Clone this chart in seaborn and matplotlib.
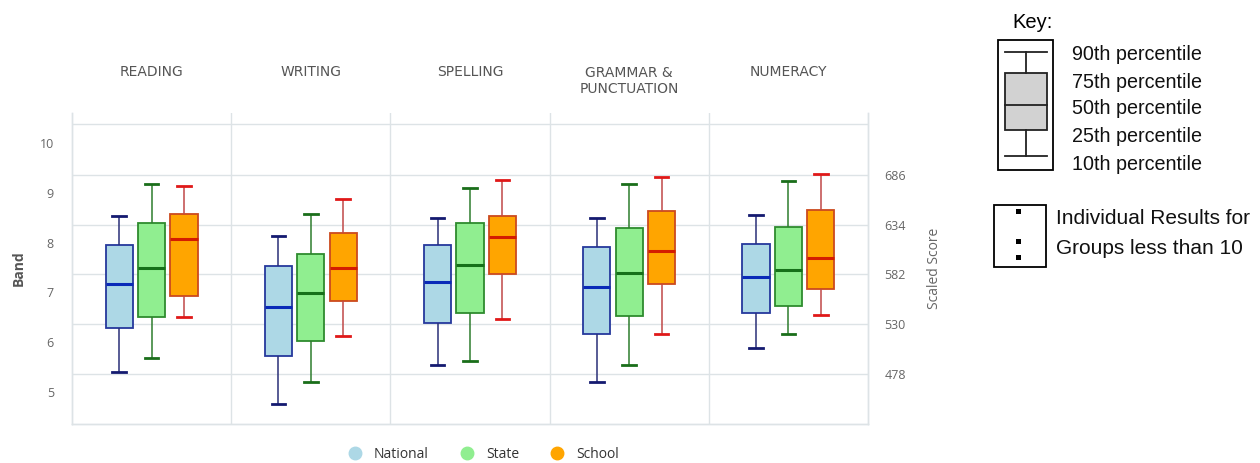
import numpy as np
import pandas as pd
import seaborn as sns
import matplotlib
matplotlib.use("Agg")
import matplotlib.pyplot as plt
from matplotlib.lines import Line2D
from matplotlib.patches import Rectangle

# ---------------- data (band values) ----------------
domains = ["READING", "WRITING", "SPELLING", "GRAMMAR &\nPUNCTUATION", "NUMERACY"]
groups = ["National", "State", "School"]

national_p10 = [5.41, 4.76, 5.55, 5.21, 5.89]
national_p25 = [6.29, 5.73, 6.39, 6.16, 6.59]
national_p50 = [7.17, 6.71, 7.21, 7.10, 7.30]
national_p75 = [7.96, 7.53, 7.95, 7.91, 7.98]
national_p90 = [8.53, 8.14, 8.50, 8.50, 8.55]

state_p10 = [5.68, 5.21, 5.62, 5.55, 6.16]
state_p25 = [6.51, 6.03, 6.58, 6.53, 6.72]
state_p50 = [7.49, 6.98, 7.56, 7.39, 7.44]
state_p75 = [8.39, 7.78, 8.39, 8.29, 8.32]
state_p90 = [9.18, 8.57, 9.10, 9.18, 9.23]

school_p10 = [6.50, 6.13, 6.47, 6.16, 6.55]
school_p25 = [6.92, 6.82, 7.36, 7.17, 7.06]
school_p50 = [8.07, 7.49, 8.12, 7.83, 7.70]
school_p75 = [8.58, 8.19, 8.53, 8.63, 8.66]
school_p90 = [9.13, 8.87, 9.25, 9.32, 9.37]

band_ticks = [5, 6, 7, 8, 9, 10]
score_ticks = [478, 530, 582, 634, 686]

key_labels = ["90th percentile", "75th percentile", "50th percentile",
              "25th percentile", "10th percentile"]
key_note = ["Individual Results for", "Groups less than 10"]

# ---------------- long table: five percentile points per box ----------------
group_stats = {
    "National": [national_p10, national_p25, national_p50, national_p75, national_p90],
    "State": [state_p10, state_p25, state_p50, state_p75, state_p90],
    "School": [school_p10, school_p25, school_p50, school_p75, school_p90],
}
rows = []
for g in groups:
    for di, d in enumerate(domains):
        for plist in group_stats[g]:
            rows.append({"domain": d, "group": g, "band": plist[di]})
df = pd.DataFrame(rows)

# ---------------- styling ----------------
fills = ["#add8e6", "#90ee90", "#ffa500"]
edges = ["#25389c", "#2e8b2e", "#cc4a1e"]
medians = ["#0a2ab8", "#16701a", "#d41c00"]
whisk = ["#2a2f78", "#2e7d2e", "#c04848"]
capc = ["#141a70", "#1a6e1a", "#e01818"]
grid_c = "#dde3e6"
txt_c = "#666666"

plt.rcParams["font.family"] = ["Open Sans", "DejaVu Sans"]

W, H = 1260, 463
fig = plt.figure(figsize=(W / 100, H / 100), dpi=100)
fig.patch.set_facecolor("white")

def px2fig(x0, y0, x1, y1):
    return [x0 / W, 1 - y1 / H, (x1 - x0) / W, (y1 - y0) / H]

ax = fig.add_axes(px2fig(72, 113, 868, 424))
ax2 = ax.twinx()

sns.boxplot(data=df, x="domain", y="band", hue="group", order=domains,
            hue_order=groups, palette=fills, saturation=1, width=0.61, gap=0.16,
            whis=(0, 100), showfliers=False, linewidth=1.2, legend=False, ax=ax)

for i, cont in enumerate(ax.containers[:3]):
    for b in cont.boxes:
        b.set_edgecolor(edges[i])
        b.set_linewidth(1.3)
    for m in cont.medians:
        m.set_color(medians[i])
        m.set_linewidth(2.2)
    for w in cont.whiskers:
        w.set_color(whisk[i])
        w.set_linewidth(1.1)
    for c in cont.caps:
        c.set_color(capc[i])
        c.set_linewidth(2.0)

# axis ranges
band_lo, band_hi = 4.36, 10.60
ax.set_ylim(band_lo, band_hi)
ax.set_xlim(-0.5, len(domains) - 0.5)
ax2.set_ylim(478 + 52 * (band_lo - 5.36), 478 + 52 * (band_hi - 5.36))

ax.set_zorder(ax2.get_zorder() + 1)
ax.patch.set_visible(False)

# left axis
ax.set_yticks(band_ticks)
ax.set_yticklabels([str(t) for t in band_ticks])
ax.tick_params(axis="y", length=0, pad=13, labelsize=9, labelcolor=txt_c)
ax.set_xticks([])
ax.set_xlabel("")
ax.set_ylabel("Band", fontsize=10, color="#555555", fontweight="bold")
ax.yaxis.set_label_coords(-0.058, 0.5)

# right axis
ax2.set_yticks(score_ticks)
ax2.set_yticklabels([str(t) for t in score_ticks])
ax2.tick_params(axis="y", length=0, pad=12, labelsize=9, labelcolor=txt_c)
ax2.set_ylabel("Scaled Score", fontsize=10, color=txt_c)
ax2.yaxis.set_label_coords(1.074, 0.5)
ax2.yaxis.grid(True, color=grid_c, linewidth=1)

for a in (ax, ax2):
    for s in ("left", "right", "bottom"):
        a.spines[s].set_color(grid_c)
        a.spines[s].set_linewidth(1)
    a.spines["top"].set_visible(False)

ax.axhline(10.38, color=grid_c, linewidth=1, zorder=0)
for xb in np.arange(0.5, len(domains) - 0.5, 1.0):
    ax.axvline(xb, color=grid_c, linewidth=1, zorder=0)

# category headers
xt = ax.get_xaxis_transform()
for i, d in enumerate(domains):
    yy = 1.103 if "\n" in d else 1.132
    ax.text(i, yy, d, transform=xt, ha="center", va="center", fontsize=10,
            color="#555555", linespacing=1.2,
            family=["Liberation Sans Narrow", "DejaVu Sans"])

# legend
handles = [Line2D([], [], marker="o", linestyle="", markersize=9,
                  markerfacecolor=c, markeredgecolor=c) for c in fills]
fig.legend(handles, groups, loc="center", bbox_to_anchor=(480 / W, 1 - 454 / H),
           ncol=3, frameon=False, fontsize=10, handletextpad=0.35,
           columnspacing=1.75, labelcolor="#333333")

# ---------------- key (overlay in pixel coordinates) ----------------
ov = fig.add_axes([0, 0, 1, 1])
ov.set_xlim(0, W)
ov.set_ylim(H, 0)
ov.axis("off")
kf = ["Liberation Sans", "DejaVu Sans"]
ov.text(1033, 22, "Key:", ha="center", va="center", fontsize=14.5, family=kf)
ov.add_patch(Rectangle((998, 40), 55, 130, fill=False, edgecolor="black", lw=1.3))
ov.plot([1005, 1047], [52, 52], color="#222222", lw=1.3)
ov.plot([1005, 1047], [156, 156], color="#222222", lw=1.3)
ov.plot([1026, 1026], [52, 73], color="#222222", lw=1.3)
ov.plot([1026, 1026], [130, 156], color="#222222", lw=1.3)
ov.add_patch(Rectangle((1005, 73), 42, 57, facecolor="#d2d2d2", edgecolor="#222222", lw=1.3))
ov.plot([1005, 1047], [105, 105], color="#222222", lw=1.3)
for lab, yy in zip(key_labels, [54, 82, 108, 137, 164]):
    ov.text(1072, yy, lab, ha="left", va="center", fontsize=14.2, family=kf, color="#111111")

ov.add_patch(Rectangle((994, 205), 52, 62, fill=False, edgecolor="black", lw=1.3))
for yy in [211, 241, 257]:
    ov.add_patch(Rectangle((1015.5, yy - 2.5), 5, 5, facecolor="black", edgecolor="none"))
ov.text(1056, 219, key_note[0], ha="left", va="center", fontsize=15, family=kf, color="#111111")
ov.text(1056, 249, key_note[1], ha="left", va="center", fontsize=15, family=kf, color="#111111")

fig.savefig("out.png", dpi=100, facecolor="white")
